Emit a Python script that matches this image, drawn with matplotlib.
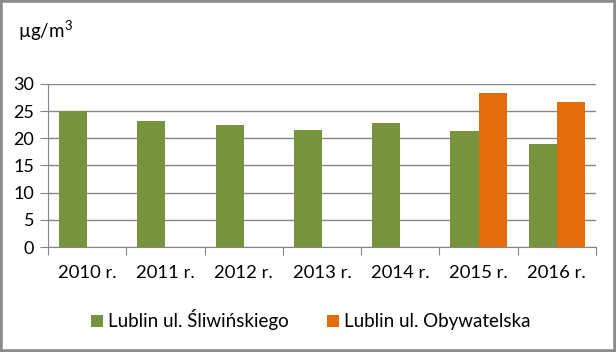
import matplotlib
matplotlib.use("Agg")
import matplotlib.pyplot as plt
from matplotlib.patches import Rectangle
import numpy as np

categories = ["2010 r.", "2011 r.", "2012 r.", "2013 r.", "2014 r.", "2015 r.", "2016 r."]
sliwinskiego = [25.0, 23.1, 22.4, 21.5, 22.9, 21.3, 19.0]
obywatelska = [np.nan, np.nan, np.nan, np.nan, np.nan, 28.3, 26.7]
series_names = ["Lublin ul. Śliwińskiego", "Lublin ul. Obywatelska"]
yticks = [0, 5, 10, 15, 20, 25, 30]

plt.rcParams['font.family'] = ['Lato', 'DejaVu Sans']
plt.rcParams['mathtext.fontset'] = 'custom'
plt.rcParams['mathtext.rm'] = 'Lato'
W, H = 616, 352
fig = plt.figure(figsize=(W/100, H/100), dpi=100)
ax = fig.add_axes([48/W, 1-247/H, (596-48)/W, (247-84)/H])

green = "#77933C"
orange = "#E46C0A"
grid = "#868686"
x = np.arange(len(categories))
bw = 0.36
ax.bar(x - bw/2, sliwinskiego, bw, color=green, label=series_names[0], zorder=3)
ax.bar(x + bw/2, obywatelska, bw, color=orange, label=series_names[1], zorder=3)

ax.set_xlim(-0.5, len(categories) - 0.5)
ax.set_ylim(0, 30)
ax.set_yticks(yticks)
ax.set_yticklabels([str(t) for t in yticks], fontsize=13)
ax.yaxis.grid(True, color=grid, linewidth=1, zorder=0)
ax.set_axisbelow(True)
ax.set_xticks(np.arange(len(categories) + 1) - 0.5, minor=False)
ax.set_xticklabels([])
ax.set_xticks(x, minor=True)
ax.set_xticklabels(categories, minor=True, fontsize=13.3)
ax.tick_params(axis='x', which='major', length=6, color=grid, direction='out')
ax.tick_params(axis='x', which='minor', length=0, pad=13)
ax.tick_params(axis='y', length=6, color=grid, direction='out', pad=4)
for s in ['top', 'right']:
    ax.spines[s].set_visible(False)
ax.spines['left'].set_color(grid)
ax.spines['bottom'].set_color(grid)

fig.text(18/W, 1-31/H, "µg/m$^{3}$", fontsize=13.5, va='center', ha='left')

leg = fig.legend(loc='center', bbox_to_anchor=(311/W, 1-320/H), ncol=2, frameon=False,
                 fontsize=13.5, handlelength=0.6, handleheight=0.6, handletextpad=0.3,
                 columnspacing=2.05)

fig.patches.append(Rectangle((0, 0), 1, 1, transform=fig.transFigure, fill=False,
                             edgecolor="#8c8c8c", linewidth=4))
fig.savefig("out.png", dpi=100)
